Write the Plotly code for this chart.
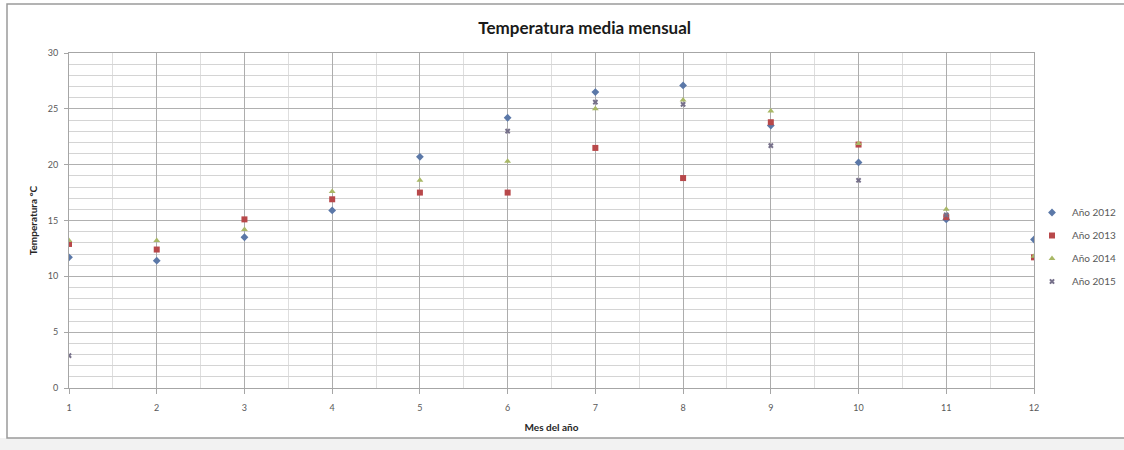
import plotly.graph_objects as go

# Monthly mean temperature (°C) per year; None where a year has no value
meses = [1, 2, 3, 4, 5, 6, 7, 8, 9, 10, 11, 12]
t_2012 = [11.7, 11.4, 13.5, 15.9, 20.7, 24.2, 26.5, 27.1, 23.5, 20.2, 15.1, 13.3]
t_2013 = [12.9, 12.4, 15.1, 16.9, 17.5, 17.5, 21.5, 18.8, 23.8, 21.8, 15.3, 11.7]
t_2014 = [13.2, 13.2, 14.2, 17.6, 18.6, 20.3, 25.0, 25.8, 24.8, 21.9, 16.0, 11.8]
t_2015 = [2.9, None, None, None, None, 23.0, 25.6, 25.4, 21.7, 18.6, 15.5, None]

series = [
    ("Año 2012", t_2012, "#5b78a8", "diamond", 6),
    ("Año 2013", t_2013, "#b8484a", "square", 6),
    ("Año 2014", t_2014, "#a9b866", "triangle-up", 6),
    ("Año 2015", t_2015, "#76708a", "x", 5),
]

fig = go.Figure()
for name, vals, color, symbol, size in series:
    fig.add_trace(go.Scatter(
        x=meses, y=vals, mode="markers", name=name, legendgroup=name,
        marker=dict(color=color, symbol=symbol, size=size,
                    line=dict(width=0)),
    ))

W, H = 1124, 450
L, R, T, B = 69, 90, 53, 62
pw, ph = W - L - R, H - T - B

def px_x(p):
    return (p - L) / pw

def px_y(p):
    return (H - B - p) / ph

font = "Lato, 'Open Sans', sans-serif"

fig.update_layout(
    width=W, height=H,
    margin=dict(l=L, r=R, t=T, b=B, autoexpand=False),
    paper_bgcolor="white", plot_bgcolor="white",
    font=dict(family=font, color="#404040"),
    title=dict(text="<b>Temperatura media mensual</b>", x=px_x(571), xanchor="center",
               y=1 - 28 / H, yanchor="middle", font=dict(size=17, color="#1a1a1a")),
    showlegend=True,
    legend=dict(x=px_x(1032), xanchor="left", y=px_y(198), yanchor="top",
                font=dict(size=10, color="#595959"), itemwidth=30,
                tracegroupgap=4, bgcolor="rgba(0,0,0,0)"),
    xaxis=dict(
        range=[1, 12], tick0=1, dtick=1,
        showgrid=True, gridcolor="#adadad", gridwidth=1,
        minor=dict(dtick=0.5, showgrid=True, gridcolor="#dedede", gridwidth=1),
        ticks="outside", ticklen=5, tickcolor="#a6a6a6",
        ticklabelstandoff=6,
        showline=True, linecolor="#a6a6a6", mirror=True,
        zeroline=False,
        tickfont=dict(size=9, color="#595959"),
        title=dict(text="<b>Mes del año</b>", font=dict(size=10, color="#262626"), standoff=12),
    ),
    yaxis=dict(
        range=[0, 30], tick0=0, dtick=5,
        showgrid=True, gridcolor="#b0b0b0", gridwidth=1,
        minor=dict(dtick=1, showgrid=True, gridcolor="#d4d4d4", gridwidth=1),
        ticks="outside", ticklen=4, tickcolor="#a6a6a6",
        ticklabelstandoff=4,
        showline=True, linecolor="#a6a6a6", mirror=True,
        zeroline=False,
        tickfont=dict(size=9, color="#595959"),
        title=dict(text="<b>Temperatura °C</b>", font=dict(size=10, color="#262626"), standoff=8),
    ),
)

# chart-area frame and the strip below it
fig.add_shape(type="rect", xref="paper", yref="paper",
              x0=px_x(0), x1=px_x(W), y0=px_y(H), y1=px_y(438),
              fillcolor="#f2f2f2", line=dict(width=0), layer="below")
fig.add_shape(type="rect", xref="paper", yref="paper",
              x0=px_x(7), x1=px_x(W + 5), y0=px_y(438), y1=px_y(4),
              line=dict(color="#9a9a9a", width=1.5), fillcolor="rgba(0,0,0,0)")

fig.write_html("out.html")
